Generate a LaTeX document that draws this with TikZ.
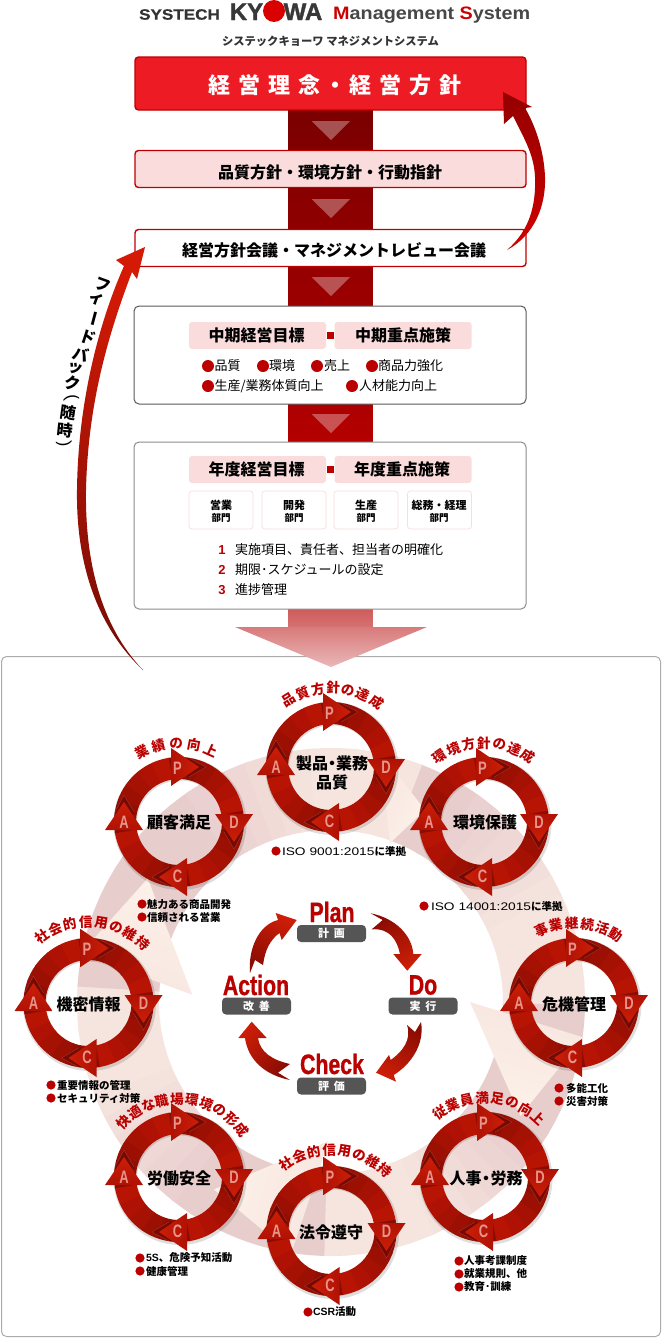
\documentclass[tikz,border=0pt]{standalone}
\usepackage{fontspec}
\usetikzlibrary{calc}
\setmainfont{Noto Sans CJK JP}
\newfontfamily\wideLat[FakeStretch=1.25]{Liberation Sans}
\newfontfamily\titleLat[FakeStretch=1.10]{Liberation Sans}
\newfontfamily\sysLat[FakeStretch=1.14,FakeBold=0.6]{Liberation Sans}
\newfontfamily\kyoLat[FakeBold=1.5]{Liberation Sans}
\newfontfamily\plainLat{Liberation Sans}
\newfontfamily\narrowLat[FakeStretch=0.76,FakeBold=1.0]{Liberation Sans}
\newfontfamily\letterLat[FakeStretch=0.72]{Liberation Sans}
\newcommand{\fs}[1]{\fontsize{#1}{#1}\selectfont}
\definecolor{rdeep}{HTML}{BB0000}
\definecolor{wheelA}{HTML}{8A0C02}
\definecolor{wheelB}{HTML}{B81404}
\definecolor{wheelG}{HTML}{B01204}
\definecolor{wheelH}{HTML}{CC1E08}
\definecolor{wheelD}{HTML}{760A02}
\definecolor{wheelL}{HTML}{A83A30}
\definecolor{bandA}{HTML}{E8CDCD}
\definecolor{bandB}{HTML}{F6E5DF}
\definecolor{headA}{HTML}{F7E6E0}
\definecolor{headB}{HTML}{FCF1E8}
\definecolor{pinkfill}{HTML}{FBDCDC}
\definecolor{pillgray}{HTML}{555555}
\definecolor{letterc}{HTML}{E8948A}
\definecolor{colTop}{HTML}{7A0000}
\definecolor{colBot}{HTML}{B40000}
\definecolor{boxred}{HTML}{ED1C24}
\definecolor{boxline}{HTML}{C00000}
\definecolor{fbBright}{HTML}{D41A05}
\definecolor{fbDark}{HTML}{7D0D05}
\newcounter{lb}
\tikzset{
 x=1pt,y=1pt,
 txt/.style={inner sep=0pt,outer sep=0pt,font=\fs{13},text=black},
 rbox/.style={draw=#1,rounded corners=3.5pt,line width=1.4pt,minimum width=391pt,inner sep=0pt},
 panel/.style={draw=#1,rounded corners=5pt,line width=1pt,fill=white,inner sep=0pt},
 pill/.style={fill=pinkfill,rounded corners=3pt,minimum width=137pt,minimum height=27pt,inner sep=0pt,font=\fs{16}\bfseries},
 dept/.style={draw=pinkfill,fill=white,rounded corners=3pt,line width=.7pt,minimum width=64pt,minimum height=38pt,inner sep=0pt},
 gpill/.style={fill=pillgray,rounded corners=4pt,minimum width=69pt,minimum height=17pt,inner sep=0pt,text=white,font=\fs{11}\bfseries},
 pdca/.style={inner sep=0pt,outer sep=0pt,text=rdeep,font=\narrowLat\bfseries\fs{28}},
 centre/.style={inner sep=0pt,outer sep=0pt,align=center,text=black,font=\fs{16}\bfseries},
 arcl/.style={inner sep=0pt,outer sep=0pt,text=rdeep,font=\fs{13.5}\bfseries},
 wlet/.style={inner sep=0pt,outer sep=0pt,text=letterc,font=\letterLat\bfseries\fs{18}},
 fb/.style={inner sep=0pt,outer sep=0pt,text=black,font=\fs{16}\bfseries},
}
\newcommand{\lbl}[4][]{\stepcounter{lb}\node[txt,#1] (lb\arabic{lb}) at (#2,-#3) {#4};}
\newcommand{\bul}[3]{\fill[rdeep] (#1,-#2) circle (#3);}
\newcommand{\wl}[4]{\bul{#1}{#3}{4.6}\lbl[anchor=west,font=\fs{10.5}\bfseries]{#2}{#3}{#4}}
\newcommand{\wheel}[2]{%
\begin{scope}[shift={(#1,-#2)}]
\fill[black,opacity=.13,even odd rule] (1,-1.5) circle (66.5) (1,-1.5) circle (43);
\foreach \qq in {0,90,180,270}{%
 \foreach \i in {0,...,5}{%
  \pgfmathsetmacro\aa{100-\qq-\i*15}%
  \pgfmathsetmacro\bb{100-\qq-(\i+1)*15-1}%
  \pgfmathsetmacro\mx{\i*20}%
  \fill[wheelB!\mx!wheelA] (\aa:65) arc[start angle=\aa,end angle=\bb,radius=65] -- (\bb:43) arc[start angle=\bb,end angle=\aa,radius=43] -- cycle;
 }
}
\foreach \qq in {0,90,180,270}{%
 \begin{scope}[rotate=-\qq]
  \fill[wheelD] (8,64.5)--(27,55)--(8,44)--cycle;
  \draw[wheelL,line width=.35pt] (10,64)--(27,55)--(10,45);
  \coordinate (ha) at (-8,74); \coordinate (hb) at (-8,36); \coordinate (ht) at (20,55);
 \end{scope}
 \pgfmathsetmacro\sa{-90-\qq}%
 \shade[top color=wheelH,bottom color=wheelG,shading angle=\sa] (ha)--(ht)--(hb)--cycle;
}
\stepcounter{lb}\node[wlet] (lb\arabic{lb}) at (-1.5,54) {P};
\stepcounter{lb}\node[wlet] (lb\arabic{lb}) at (55,0) {D};
\stepcounter{lb}\node[wlet] (lb\arabic{lb}) at (-1.5,-54) {C};
\stepcounter{lb}\node[wlet] (lb\arabic{lb}) at (-55,0) {A};
\end{scope}}
\newcommand{\arclabel}[6]{%
\begin{scope}[shift={(#1,-#2)}]
\foreach \ch [count=\i from 0] in {#6}{%
 \pgfmathsetmacro\ang{#4-\i*#5}%
 \pgfmathsetmacro\rt{\ang-90}%
 \stepcounter{lb}\node[arcl,rotate=\rt] (lb\arabic{lb}) at (\ang:#3) {\ch};
}
\end{scope}}
\newcommand{\fbch}[4]{\stepcounter{lb}\node[fb,rotate=#4] (lb\arabic{lb}) at (#1,-#2) {#3};}
\begin{document}
\begin{tikzpicture}
\useasboundingbox (0,0) rectangle (662,-1344);
\fill[white] (0,0) rectangle (662,-1344);
% outer panel
\node[panel=gray!65,minimum width=659pt,minimum height=680pt] (outer) at (331,-996.5) {};
% centre column
\shade[top color=colTop,bottom color=colBot] (288.5,-108) rectangle (372.5,-443);
\shade[top color=colBot!65!white,bottom color=colBot!55!white] (288.5,-607) rectangle (372.5,-628);
\shade[top color=colBot!52!white,bottom color=colBot!28!white] (235,-627) -- (427,-627) -- (331,-667) -- cycle;
\foreach \yy in {121,199,277,414}{\fill[white,opacity=.32] (311.5,-\yy) -- (350,-\yy) -- (331,-\yy-19) -- cycle;}
% title
\node[inner sep=0pt,text=black!80,font=\sysLat\bfseries\fs{15}] (systech) at (179.5,-14.5) {SYSTECH};
\node[inner sep=0pt,text=black!78,font=\kyoLat\bfseries\fs{24},anchor=base] (kyo1) at (246.5,-20) {KY};
\fill[red!85!black] (274,-11) circle (11);
\node[inner sep=0pt,text=black!78,font=\kyoLat\bfseries\fs{24},anchor=base] (kyo2) at (303,-20) {WA};
\node[inner sep=0pt,text=black!72,font=\titleLat\bfseries\fs{18},anchor=base west] (mgmt) at (333,-19) {\textcolor{red!80!black}{M}anagement \textcolor{red!80!black}{S}ystem};
\lbl[font=\fs{11.3}\bfseries,text=black!80]{330.5}{41}{システックキョーワ マネジメントシステム}
% boxes
\node[rbox=boxline,fill=boxred,minimum height=53pt] (b1) at (330.5,-83.5) {};
\lbl[font=\addfontfeature{LetterSpace=36}\fs{22}\bfseries,text=white]{335}{85.5}{経営理念\kern3.5pt・\kern3.5pt経営方針}
\node[rbox=red!75!black,fill=pinkfill,minimum height=37pt] (b2) at (330.5,-169) {};
\lbl[font=\fs{16}\bfseries]{330}{172}{品質方針・環境方針・行動指針}
\node[rbox=red!75!black,fill=white,minimum height=37pt] (b3) at (330.5,-248) {};
\lbl[font=\fs{16}\bfseries]{334}{250}{経営方針会議・マネジメントレビュー会議}
\node[panel=black!65,minimum width=392pt,minimum height=98pt] (b4) at (330,-355) {};
\node[pill] (p1) at (257.5,-335.5) {\kern-2pt中期経営目標};
\node[pill] (p2) at (403,-335.5) {中期重点施策};
\fill[rdeep] (327,-332) rectangle (334,-339);
\bul{208}{366}{6}\lbl[anchor=west]{214.5}{366}{品質}
\bul{263}{366}{6}\lbl[anchor=west]{269}{366}{環境}
\bul{317}{366}{6}\lbl[anchor=west]{324}{366}{売上}
\bul{372}{366}{6}\lbl[anchor=west]{378}{366}{商品力強化}
\bul{208}{386}{6}\lbl[anchor=west]{214.5}{386}{生産/業務体質向上}
\bul{352}{386}{6}\lbl[anchor=west]{359}{386}{人材能力向上}
\node[panel=black!45,minimum width=392pt,minimum height=167pt] (b5) at (330,-525.5) {};
\node[pill] (p3) at (257.5,-469.5) {\kern-2pt年度経営目標};
\node[pill] (p4) at (403,-469.5) {\kern-2pt年度重点施策};
\fill[rdeep] (327,-466) rectangle (334,-473);
\node[dept] (d1) at (221,-510) {}; \node[dept] (d2) at (294,-510) {};
\node[dept] (d3) at (366,-510) {}; \node[dept] (d4) at (439.5,-510) {};
\lbl[font=\fs{11}\bfseries]{221}{505}{営業}\lbl[font=\fs{9.5}\bfseries]{221}{518}{部門}
\lbl[font=\fs{11}\bfseries]{294}{505}{開発}\lbl[font=\fs{9.5}\bfseries]{294}{518}{部門}
\lbl[font=\fs{11}\bfseries]{366}{505}{生産}\lbl[font=\fs{9.5}\bfseries]{366}{518}{部門}
\lbl[font=\fs{11}\bfseries]{439}{505}{総務・経理}\lbl[font=\fs{9.5}\bfseries]{439}{518}{部門}
\lbl[font=\plainLat\bfseries\fs{13},text=rdeep]{222}{550}{1}\lbl[anchor=west]{235}{550}{実施項目、責任者、担当者の明確化}
\lbl[font=\plainLat\bfseries\fs{13},text=rdeep]{222}{570}{2}\lbl[anchor=west]{235}{570}{期限･スケジュールの設定}
\lbl[font=\plainLat\bfseries\fs{13},text=rdeep]{222}{590}{3}\lbl[anchor=west]{235}{590}{進捗管理}
% feedback arrows
\shade[top color=fbBright,bottom color=fbDark,shading angle=-15]
 (143,-670) .. controls (95,-625) and (76,-560) .. (77,-490) .. controls (78,-400) and (100,-320) .. (124,-266)
 -- (116,-260) -- (145,-247) -- (137,-279) -- (132,-272) .. controls (110,-330) and (88,-400) .. (86,-490) .. controls (85,-560) and (100,-625) .. (143,-670) -- cycle;
\shade[top color=red!58!black,bottom color=red!82!black]
 (507,-250) .. controls (535,-235) and (546,-205) .. (545,-177) .. controls (544,-150) and (535,-125) .. (525,-108)
 -- (532,-107) -- (503,-92) -- (504,-124) -- (513,-116) .. controls (525,-140) and (534,-155) .. (535,-177) .. controls (536,-205) and (530,-230) .. (507,-250) -- cycle;
\fbch{103}{285}{フ}{-20}\fbch{97}{299}{ィ}{-20}\fbch{92}{318}{ー}{-105}\fbch{88}{337}{ド}{-18}
\fbch{81}{354}{バ}{-15}\fbch{75.5}{369}{ッ}{-15}\fbch{73}{383}{ク}{-12}
\stepcounter{lb}\node[fb,font=\plainLat\fs{17},rotate=-82] (lb\arabic{lb}) at (71,-398) {(};
\fbch{68}{413}{随}{-8}\fbch{65}{430}{時}{-6}
\stepcounter{lb}\node[fb,font=\plainLat\fs{17},rotate=-85] (lb\arabic{lb}) at (64,-444) {)};
% band of four pale arrows
\begin{scope}[shift={(331,-1002)}]
\foreach \tb/\ts in {0/69.5,-91/-0.5,-183/-91.5,70/176.5}{%
 \pgfmathsetmacro\aa{\ts}\pgfmathsetmacro\bb{\tb+59}%
 \fill[bandA] (\aa:254) arc[start angle=\aa,end angle=\bb,radius=254] -- (\bb:172) arc[start angle=\bb,end angle=\aa,radius=172] -- cycle;
 \foreach \i in {0,...,11}{%
  \pgfmathsetmacro\aa{\tb+60-\i*5}\pgfmathsetmacro\bb{\tb+60-(\i+1)*5-1}\pgfmathsetmacro\mx{min(100,\i*100/7)}%
  \fill[bandB!\mx!bandA] (\aa:254) arc[start angle=\aa,end angle=\bb,radius=254] -- (\bb:172) arc[start angle=\bb,end angle=\aa,radius=172] -- cycle;
 }
}
\foreach \tb in {0,-91,-183}{%
 \pgfmathsetmacro\sa{\tb-196}%
 \shade[top color=headB,bottom color=headA,shading angle=\sa] (\tb:139) -- ({\tb-8}:255) -- ({\tb-31}:221) -- cycle;
}
\end{scope}
\shade[top color=headB,bottom color=headA,shading angle=-120] (390,-843) -- (380,-752) -- (425,-810) -- cycle;
% wheels
\wheel{331}{767}\wheel{179}{822}\wheel{484}{822}\wheel{88.5}{1003}\wheel{574}{1003}\wheel{179}{1177}\wheel{485}{1177}\wheel{331.5}{1231}
\lbl[centre]{332}{772.5}{製品\kern-4pt・\kern-4pt業務\\[3pt]品質}
\lbl[centre]{179}{822}{顧客満足}
\lbl[centre]{485}{822}{環境保護}
\lbl[centre]{88.5}{1004}{機密情報}
\lbl[centre]{574}{1004}{危機管理}
\lbl[centre]{179}{1178}{労働安全}
\lbl[centre]{486}{1178}{人事\kern-3.5pt・\kern-3.5pt労務}
\lbl[centre]{331}{1232}{法令遵守}
\arclabel{331}{767}{79}{122}{11.2}{品,質,方,針,の,達,成}
\arclabel{179}{822}{79}{118}{13}{業,績,の,向,上}
\arclabel{484}{822}{79}{124}{11.3}{環,境,方,針,の,達,成}
\arclabel{88.5}{1003}{81}{125}{11}{社,会,的,信,用,の,維,持}
\arclabel{574}{1003}{80}{114}{11.2}{事,業,継,続,活,動}
\arclabel{179}{1177}{78}{135}{10.9}{快,適,な,職,場,環,境,の,形,成}
\arclabel{485}{1177}{79}{125}{11}{従,業,員,満,足,の,向,上}
\arclabel{331.5}{1231}{81}{124}{10.8}{社,会,的,信,用,の,維,持}
% wheel notes
\wl{276}{282}{851}{{\wideLat\mdseries\fs{11}ISO 9001:2015}に準拠}
\wl{424}{431}{906}{{\wideLat\mdseries\fs{11}ISO 14001:2015}に準拠}
\wl{142}{147}{904}{魅力ある商品開発}
\wl{142}{147}{917}{信頼される営業}
\wl{51}{57}{1085}{重要情報の管理}
\wl{51}{57}{1098}{セキュリティ対策}
\wl{559}{566}{1088}{多能工化}
\wl{559}{566}{1101}{災害対策}
\wl{140}{146}{1258}{{\plainLat 5S}、危険予知活動}
\wl{140}{146}{1271}{健康管理}
\wl{308}{313}{1312}{{\plainLat CSR}活動}
\wl{459}{464}{1261}{人事考課制度}
\wl{459}{464}{1274}{就業規則、他}
\wl{459}{464}{1287}{教育･訓練}
% PDCA
\node[pdca] (plan) at (332,-912) {Plan};
\node[pdca] (do) at (423,-985) {Do};
\node[pdca] (check) at (332,-1064) {Check};
\node[pdca] (action) at (256,-985) {Action};
\node[gpill] (g1) at (331.5,-933.5) {計\kern5pt画};
\node[gpill] (g2) at (423,-1006) {実\kern5pt行};
\node[gpill] (g3) at (331.5,-1086) {評\kern5pt価};
\node[gpill] (g4) at (256.5,-1006) {改\kern5pt善};
\shade[top color=wheelA,bottom color=wheelH,shading angle=30]
 (370.7,-913.3) .. controls (395,-918) and (412,-935) .. (413.3,-954) -- (421.7,-954) -- (407.3,-970.7) -- (393.3,-954) -- (400,-954) .. controls (397,-940) and (390,-928) .. (371.7,-929.3) -- (382.7,-920) -- cycle;
\shade[top color=wheelA,bottom color=wheelH,shading angle=-30]
 (421,-1022) .. controls (425,-1045) and (410,-1065) .. (393.7,-1075) -- (396,-1081.7) -- (376,-1072.7) -- (389,-1055) -- (390.7,-1060) .. controls (402,-1052) and (412,-1040) .. (407,-1025) -- (415,-1032) -- cycle;
\shade[top color=wheelA,bottom color=wheelH,shading angle=-130]
 (290,-1080) .. controls (265,-1075) and (248,-1060) .. (245,-1038) -- (238.3,-1038) -- (251.7,-1021.7) -- (266.7,-1038) -- (258,-1038) .. controls (260,-1052) and (272,-1060) .. (290,-1064) -- (278,-1072.7) -- cycle;
\shade[top color=wheelA,bottom color=wheelH,shading angle=150]
 (250,-973) .. controls (248,-950) and (258,-925) .. (278,-920) -- (275.7,-913) -- (296.7,-920) -- (281.7,-940) -- (279.5,-933) .. controls (270,-940) and (265,-950) .. (263,-965) -- (255,-960) -- cycle;
\end{tikzpicture}
\end{document}
